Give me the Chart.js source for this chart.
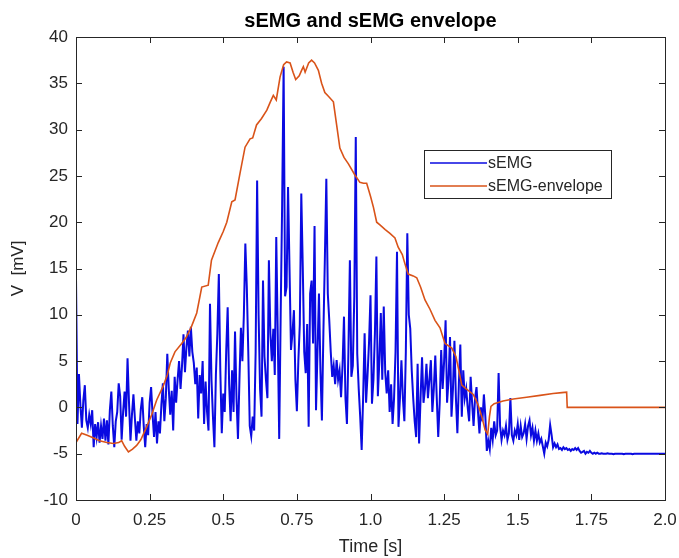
<!DOCTYPE html>
<html>
<head>
<meta charset="utf-8">
<script src="https://cdn.jsdelivr.net/npm/chart.js@4.4.1/dist/chart.umd.min.js"></script>
<style>
  html, body { margin: 0; padding: 0; background: #fff; }
  #wrap { width: 679px; height: 558px; }
</style>
</head>
<body>
<div id="wrap"><canvas id="emgChart"></canvas></div>
<script>
// sEMG samples, every 5 ms starting at t = 0
const semgStart = 0;
const semgStep = 0.005;
const semgValues = [
  14.0, -1.8, 3.6, 0.2, -2.2, 0.8, 2.4, -1.4, -2.2, -0.8,
  -1.8, -0.3, -4.3, -1.8, -3.2, -1.6, -3.8, -2.0, -3.4, -1.2,
  -3.6, -1.4, -4.0, -0.3, 1.7, -2.0, -4.3, -1.5, -0.5, 2.6,
  1.2, -3.5, -0.5, 1.7, -1.0, 5.3, 0.5, -3.6, -0.8, 1.4,
  -1.2, -3.6, -1.5, -2.8, -0.2, 1.1, -2.0, -4.3, -1.8, -3.0,
  0.5, 2.2, -0.8, -3.2, -0.5, -3.9, -1.5, -2.8, 0.3, 2.6,
  -1.5, 1.0, 5.8, 2.0, -0.8, 1.8, -2.5, 3.3, 0.5, 3.0,
  5.0, 2.0, 4.5, 7.9, 3.8, 6.5, 8.3, 5.5, 8.7, 6.0,
  4.8, 2.5, 4.3, -1.2, 3.5, 1.5, 5.0, -1.8, 2.8, -0.5,
  -2.5, 11.2, 3.0, -1.0, -4.3, 3.5, 8.0, 14.4, 4.0, -2.8,
  1.5, -0.5, 6.0, 10.8, 2.5, -1.5, 4.0, -0.5, 8.2, 1.0,
  -3.4, 3.0, 8.6, 5.0, 10.0, 17.7, 13.0, 6.0, -2.0, -3.1,
  -1.0, -2.5, 6.0, 24.5, 10.0, 2.0, -1.0, 13.7, 5.5, 3.0,
  1.0, 15.9, 8.0, 5.0, 8.5, 3.5, 18.4, 8.0, -3.4, 10.0,
  22.0, 36.8, 12.0, 13.0, 23.8, 15.0, 6.2, 8.0, 10.5, 3.0,
  -0.4, 5.0, 9.0, 23.1, 15.2, 6.0, 3.7, 9.0, -2.1, 12.3,
  13.7, 6.9, 19.6, -0.3, 6.0, 12.3, 4.0, -1.4, 8.0, 16.0,
  24.7, 12.3, 9.4, 6.0, 3.3, 4.5, 2.5, 5.1, 3.0, 4.0,
  1.1, 4.5, 9.8, 1.0, -1.8, 6.0, 15.9, 3.3, 4.5, 12.0,
  29.2, 5.8, 2.0, -1.0, -4.6, 1.1, 8.0, 0.5, 3.5, 7.0,
  12.1, 0.4, 3.0, 8.0, 16.3, 1.2, 5.0, 10.2, 3.0, 10.9,
  3.8, 1.5, 4.0, -0.5, 2.5, -1.8, 1.0, 6.0, 16.8, -2.1,
  1.0, 5.1, 1.0, -1.5, 6.0, 18.8, 10.0, 8.5, 4.0, 1.0,
  -1.5, -3.2, 4.7, -3.9, 1.0, 5.4, 0.5, 2.0, 4.7, 1.0,
  3.0, 5.1, -0.5, 2.0, 5.6, 1.0, -3.2, 0.5, 6.2, 2.0,
  5.0, 9.4, 0.5, 3.0, 7.6, -1.0, 2.0, 7.2, 1.0, -2.8,
  2.5, 6.8, -1.0, 4.0, 1.0, 2.0, 0.0, -1.5, 3.3, 0.5,
  -2.0, 1.0, 2.2, -0.5, -2.8, 0.0, -1.5, 1.4, -1.0, -4.7,
  -3.6, -4.5, -2.2, -3.5, -1.5, -3.0, -2.5, 3.7, -2.0, -3.5,
  -2.5, -3.0, -2.0, -3.5, -2.8, 1.0, -3.0, -3.6, -2.5, -3.0,
  -1.8, -3.5, -2.0, -3.2, -2.8, -1.8, -3.4, -2.0, -1.4, -3.0,
  -2.2, -3.6, -2.5, -3.6, -2.8, -3.8, -3.4, -4.2, -5.0, -3.8,
  -4.2, -3.5, -1.9, -3.0, -4.3, -3.9, -4.3, -4.0, -4.5, -4.4,
  -4.6, -4.3, -4.5, -4.4, -4.6, -4.5, -4.7, -4.5, -4.6, -4.4,
  -4.6, -4.4, -4.7, -4.9, -4.8, -4.7, -5.0, -4.8, -4.9, -4.7,
  -4.9, -5.0, -4.9, -5.0, -4.9, -5.0, -5.0, -4.95, -5.0, -5.0,
  -5.0, -4.95, -5.0, -5.0, -5.0, -5.05, -5.0, -5.0, -5.0, -5.0,
  -5.0, -5.0, -5.05, -5.0, -5.0, -5.0, -5.0, -5.0, -5.05, -5.0,
  -5.0, -5.0, -5.0, -5.0, -5.0, -5.0, -5.0, -5.0, -5.0, -5.0,
  -5.0, -5.0, -5.0, -5.0, -5.0, -5.0, -5.0, -5.0, -5.0, -5.0,
  -5.0
];

// envelope, read as time / value pairs
const envTimes = [
  0.000, 0.019, 0.038, 0.060, 0.080, 0.105, 0.127, 0.145, 0.155, 0.165,
  0.178, 0.192, 0.206, 0.220, 0.240, 0.257, 0.274, 0.296, 0.310, 0.320,
  0.336, 0.359, 0.375, 0.393, 0.410, 0.427, 0.449, 0.460, 0.483, 0.500,
  0.512, 0.529, 0.540, 0.557, 0.574, 0.591, 0.600, 0.613, 0.630, 0.648,
  0.660, 0.670, 0.680, 0.693, 0.705, 0.715, 0.727, 0.737, 0.746, 0.758,
  0.766, 0.772, 0.778, 0.790, 0.800, 0.810, 0.823, 0.834, 0.845, 0.857,
  0.874, 0.885, 0.896, 0.910, 0.925, 0.947, 0.964, 0.976, 0.987, 1.000,
  1.010, 1.021, 1.032, 1.050, 1.066, 1.083, 1.094, 1.108, 1.117, 1.128,
  1.145, 1.157, 1.170, 1.185, 1.202, 1.219, 1.236, 1.253, 1.276, 1.290,
  1.300, 1.310, 1.325, 1.349, 1.365, 1.378, 1.389, 1.398, 1.404, 1.409,
  1.420, 1.450, 1.485, 1.530, 1.576, 1.620, 1.650, 1.666, 1.668, 2.000
];
const envValues = [
  -3.8, -2.8, -3.0, -3.3, -3.6, -3.8, -3.9, -3.8, -3.6, -4.2,
  -4.8, -4.5, -4.1, -3.5, -2.1, -0.8, 0.8, 2.3, 3.5, 4.8,
  6.0, 6.9, 7.6, 8.8, 10.2, 13.0, 13.2, 15.9, 17.8, 19.0,
  20.0, 22.2, 22.4, 25.3, 28.1, 29.0, 29.1, 30.5, 31.2, 32.1,
  33.0, 33.7, 33.2, 35.7, 37.0, 37.3, 37.2, 36.2, 35.4, 35.8,
  36.4, 36.8, 36.2, 37.2, 37.5, 37.2, 36.4, 35.0, 34.0, 33.6,
  33.0, 30.5, 28.0, 27.0, 26.3, 25.1, 24.3, 24.2, 24.2, 22.8,
  21.6, 20.0, 19.7, 19.2, 18.8, 18.3, 17.3, 16.5, 15.5, 14.4,
  14.2, 14.0, 13.0, 11.6, 10.6, 9.4, 8.6, 6.9, 6.4, 5.5,
  4.0, 2.4, 2.0, 1.4, 0.3, -1.0, -2.4, -2.9, -1.0, 0.1,
  0.4, 0.7, 0.9, 1.1, 1.3, 1.5, 1.6, 1.65, 0.0, 0.0
];

const xTickLabels = ['0', '0.25', '0.5', '0.75', '1.0', '1.25', '1.5', '1.75', '2.0'];
const seriesNames = ['sEMG', 'sEMG-envelope'];

const fontFamily = "'Liberation Sans', Arial, Helvetica, sans-serif";
const axisColor = '#262626';

const semgPoints = semgValues.map((v, i) => ({ x: semgStart + i * semgStep, y: v }));
const envPoints = envTimes.map((t, i) => ({ x: t, y: envValues[i] }));

// MATLAB style box with inward ticks on all four sides
const boxTicks = {
    id: 'boxTicks',
    afterDatasetsDraw(chart) {
        const { ctx, chartArea: a, scales: { x, y } } = chart;
        ctx.save();
        ctx.strokeStyle = axisColor;
        ctx.lineWidth = 1;
        ctx.beginPath();
        x.ticks.forEach(t => {
            const px = Math.round(x.getPixelForValue(t.value)) + 0.5;
            ctx.moveTo(px, a.bottom); ctx.lineTo(px, a.bottom - 6);
            ctx.moveTo(px, a.top); ctx.lineTo(px, a.top + 6);
        });
        y.ticks.forEach(t => {
            const py = Math.round(y.getPixelForValue(t.value)) + 0.5;
            ctx.moveTo(a.left, py); ctx.lineTo(a.left + 6, py);
            ctx.moveTo(a.right, py); ctx.lineTo(a.right - 6, py);
        });
        ctx.stroke();
        ctx.strokeRect(Math.round(a.left) + 0.5, Math.round(a.top) + 0.5,
            Math.round(a.right - a.left), Math.round(a.bottom - a.top));
        ctx.restore();
    }
};

// legend box inside the plot area
const boxLegend = {
    id: 'boxLegend',
    afterDraw(chart, args, opts) {
        const ctx = chart.ctx;
        const { left, top, width, height } = opts;
        ctx.save();
        ctx.fillStyle = '#fff';
        ctx.fillRect(left, top, width, height);
        ctx.strokeStyle = axisColor;
        ctx.lineWidth = 1;
        ctx.strokeRect(left + 0.5, top + 0.5, width, height);
        ctx.font = '16px ' + fontFamily;
        ctx.textBaseline = 'middle';
        ctx.fillStyle = axisColor;
        chart.data.datasets.forEach((ds, i) => {
            const ly = top + 13 + i * 23;
            ctx.strokeStyle = ds.borderColor;
            ctx.lineWidth = 1.6;
            ctx.beginPath();
            ctx.moveTo(left + 6, ly);
            ctx.lineTo(left + 63, ly);
            ctx.stroke();
            ctx.fillText(ds.label, left + 64, ly + 1);
        });
        ctx.restore();
    }
};

const ctx = document.getElementById('emgChart').getContext('2d');
new Chart(ctx, {
    type: 'line',
    data: {
        datasets: [{
            label: seriesNames[0],
            data: semgPoints,
            borderColor: 'rgb(10, 10, 225)',
            borderWidth: 2,
            pointRadius: 0,
            tension: 0,
            order: 2
        }, {
            label: seriesNames[1],
            data: envPoints,
            borderColor: '#D95319',
            borderWidth: 1.6,
            pointRadius: 0,
            tension: 0,
            order: 1
        }]
    },
    options: {
        responsive: true,
        maintainAspectRatio: false,
        animation: false,
        layout: { padding: { left: 0, right: 14, top: 0, bottom: 0 } },
        plugins: {
            legend: { display: false },
            tooltip: { enabled: false },
            title: {
                display: true,
                fullSize: false,
                text: 'sEMG and sEMG envelope',
                color: '#000',
                font: { family: fontFamily, size: 20, weight: 'bold' },
                padding: { top: 9, bottom: 4 }
            },
            boxLegend: { left: 424, top: 150, width: 187, height: 48 }
        },
        scales: {
            x: {
                type: 'linear',
                min: 0,
                max: 2,
                grid: { display: false, drawTicks: false },
                border: { display: false },
                ticks: {
                    stepSize: 0.25,
                    padding: 10,
                    color: axisColor,
                    font: { family: fontFamily, size: 17 },
                    maxRotation: 0,
                    callback: (v, i) => xTickLabels[i]
                },
                title: {
                    display: true,
                    text: 'Time [s]',
                    color: axisColor,
                    font: { family: fontFamily, size: 18 },
                    padding: { top: 0, bottom: 0 }
                },
                afterFit: s => {
                    s.height = 58;
                    s.paddingLeft = 0;
                    s.paddingRight = 0;
                }
            },
            y: {
                min: -10,
                max: 40,
                grid: { display: false, drawTicks: false },
                border: { display: false },
                ticks: {
                    stepSize: 5,
                    padding: 8,
                    color: axisColor,
                    font: { family: fontFamily, size: 17 }
                },
                title: {
                    display: true,
                    text: 'V  [mV]',
                    color: axisColor,
                    font: { family: fontFamily, size: 17 },
                    padding: { top: 8, bottom: 0 }
                },
                afterFit: s => { s.width = 76; }
            }
        }
    },
    plugins: [boxTicks, boxLegend]
});
</script>
</body>
</html>
